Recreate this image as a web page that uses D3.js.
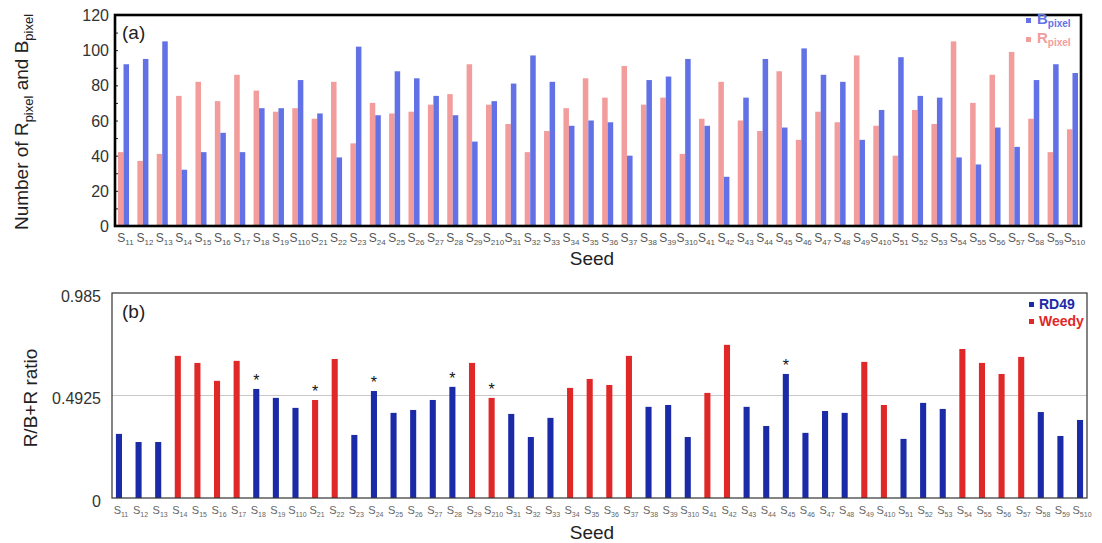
<!DOCTYPE html>
<html>
<head>
<meta charset="utf-8">
<script src="https://cdn.jsdelivr.net/npm/d3@7"></script>
<style>
  html, body { margin: 0; padding: 0; background: #fff; }
  svg { display: block; font-family: "Liberation Sans", Arial, sans-serif; }
</style>
</head>
<body>
<svg id="chart" width="1102" height="543"></svg>
<script>
// Seed identifiers (drawn as "S" + subscript)
const seeds = ["11","12","13","14","15","16","17","18","19","110",
               "21","22","23","24","25","26","27","28","29","210",
               "31","32","33","34","35","36","37","38","39","310",
               "41","42","43","44","45","46","47","48","49","410",
               "51","52","53","54","55","56","57","58","59","510"];

// Panel (a): pixel counts per seed
const rPixel = [42,37,41,74,82,71,86,77,65,67,
                61,82,47,70,64,65,69,75,92,69,
                58,42,54,67,84,73,91,69,73,41,
                61,82,60,54,88,49,65,59,97,57,
                40,66,58,105,70,86,99,61,42,55];
const bPixel = [92,95,105,32,42,53,42,67,67,83,
                64,39,102,63,88,84,74,63,48,71,
                81,97,82,57,60,59,40,83,85,95,
                57,28,73,95,56,101,86,82,49,66,
                96,74,73,39,35,56,45,83,92,87];

// Panel (b): R/(B+R) ratio per seed, with its group
const ratio = [0.308,0.269,0.269,0.683,0.649,0.563,0.659,0.524,0.481,0.433,
               0.471,0.668,0.303,0.514,0.409,0.423,0.471,0.534,0.649,0.481,
               0.404,0.293,0.385,0.529,0.572,0.543,0.683,0.438,0.447,0.293,
               0.505,0.736,0.438,0.346,0.596,0.313,0.418,0.409,0.654,0.447,
               0.284,0.457,0.428,0.716,0.649,0.596,0.678,0.413,0.298,0.375];
const group = ["RD49","RD49","RD49","Weedy","Weedy","Weedy","Weedy","RD49","RD49","RD49",
               "Weedy","Weedy","RD49","RD49","RD49","RD49","RD49","RD49","Weedy","Weedy",
               "RD49","RD49","RD49","Weedy","Weedy","Weedy","Weedy","RD49","RD49","RD49",
               "Weedy","Weedy","RD49","RD49","RD49","RD49","RD49","RD49","Weedy","Weedy",
               "RD49","RD49","RD49","Weedy","Weedy","Weedy","Weedy","RD49","RD49","RD49"];
// Seeds marked with an asterisk
const starred = ["18","21","24","28","210","45"];

const yTicksA = [0,20,40,60,80,100,120];
const yTicksB = [0,0.4925,0.985];

const svg = d3.select("#chart");
const COL_B = "#6272e6", COL_R = "#f29c9c";
const COL_RD = "#1b2aa6", COL_WD = "#e02828";

function seedLabel(sel, fs, sub) {
  sel.append("tspan").text("S").attr("font-size", fs);
  sel.append("tspan").text(d => d).attr("font-size", sub).attr("dy", 3);
}

// ---------- Panel (a) ----------
const A = {left: 115, right: 1081, top: 15, bottom: 226};
const xA = d3.scaleBand().domain(seeds).range([A.left, A.right]).paddingInner(0.43).paddingOuter(0.155);
const xSub = d3.scaleBand().domain(["R","B"]).range([0, xA.bandwidth()]);
const yA = d3.scaleLinear().domain([0,120]).range([A.bottom, A.top]);

const gA = svg.append("g");
const pairs = gA.selectAll("g.pair").data(seeds.map((s,i)=>({s, r:rPixel[i], b:bPixel[i]})))
  .join("g").attr("transform", d => `translate(${xA(d.s)},0)`);
pairs.append("rect").attr("x", xSub("R")).attr("width", xSub.bandwidth())
  .attr("y", d => yA(d.r)).attr("height", d => yA(0)-yA(d.r)).attr("fill", COL_R);
pairs.append("rect").attr("x", xSub("B")).attr("width", xSub.bandwidth())
  .attr("y", d => yA(d.b)).attr("height", d => yA(0)-yA(d.b)).attr("fill", COL_B);

// inward minor ticks
gA.append("g").attr("transform", `translate(${A.left},0)`)
  .call(d3.axisRight(yA).tickValues(d3.range(0,121,10)).tickSize(3).tickFormat(""))
  .call(g => g.select(".domain").remove())
  .call(g => g.selectAll("line").attr("stroke", "#222"));
// tick labels
gA.append("g").attr("transform", `translate(${A.left-6},0)`)
  .call(d3.axisLeft(yA).tickValues(yTicksA).tickSize(0).tickPadding(0))
  .call(g => g.select(".domain").remove())
  .call(g => g.selectAll("text").attr("font-size", 16).attr("fill", "#333")
      .attr("font-family", "Liberation Sans, Arial, sans-serif").attr("dy", "0.35em"));

gA.append("rect").attr("x", A.left).attr("y", A.top).attr("width", A.right-A.left)
  .attr("height", A.bottom-A.top).attr("fill", "none").attr("stroke", "#000").attr("stroke-width", 2.6);

gA.append("g").selectAll("text").data(seeds).join("text")
  .attr("x", d => xA(d) + xA.bandwidth()/2 + 2).attr("y", 242)
  .attr("text-anchor", "middle").attr("fill", "#555")
  .call(seedLabel, 12, 8);

gA.append("text").attr("x", 592).attr("y", 265).attr("text-anchor", "middle")
  .attr("font-size", 19).attr("fill", "#222").text("Seed");

gA.append("text").attr("x", 122).attr("y", 39).attr("font-size", 19).attr("fill", "#222").text("(a)");

const tA = gA.append("text").attr("transform", "translate(28,122) rotate(-90)")
  .attr("text-anchor", "middle").attr("font-size", 19).attr("fill", "#222");
tA.append("tspan").text("Number of R");
tA.append("tspan").text("pixel").attr("font-size", 13).attr("dy", 5);
tA.append("tspan").text(" and B").attr("dy", -5);
tA.append("tspan").text("pixel").attr("font-size", 13).attr("dy", 5);

// legend (a)
const legA = [{k:"B", c:COL_B, y:24}, {k:"R", c:COL_R, y:43}];
const lA = gA.append("g").selectAll("g").data(legA).join("g");
lA.append("rect").attr("x", 1026).attr("y", d => d.y-6).attr("width", 5).attr("height", 5).attr("fill", d => d.c);
const lAt = lA.append("text").attr("x", 1037).attr("y", d => d.y).attr("fill", d => d.c).attr("font-weight", "bold");
lAt.append("tspan").text(d => d.k).attr("font-size", 15);
lAt.append("tspan").text("pixel").attr("font-size", 10).attr("dy", 3);

// ---------- Panel (b) ----------
const B = {left: 112, right: 1087, top: 293, bottom: 498};
const xB = d3.scaleBand().domain(seeds).range([B.left, B.right]).paddingInner(0.69).paddingOuter(0.2);
const yB = d3.scaleLinear().domain([0,0.985]).range([B.bottom, B.top]);

const gB = svg.append("g");
gB.append("line").attr("x1", B.left).attr("x2", B.right).attr("y1", yB(0.4925)).attr("y2", yB(0.4925))
  .attr("stroke", "#c8c8c8").attr("stroke-width", 1);

const bars = seeds.map((s,i) => ({s, v: ratio[i], g: group[i]}));
gB.selectAll("rect.bar").data(bars).join("rect").attr("class", "bar")
  .attr("x", d => xB(d.s)).attr("width", xB.bandwidth())
  .attr("y", d => yB(d.v)).attr("height", d => yB(0)-yB(d.v))
  .attr("fill", d => d.g === "RD49" ? COL_RD : COL_WD);

gB.selectAll("text.star").data(bars.filter(d => starred.includes(d.s))).join("text")
  .attr("class", "star").attr("x", d => xB(d.s) + xB.bandwidth()/2).attr("y", d => yB(d.v) - 3)
  .attr("text-anchor", "middle").attr("font-size", 16).attr("fill", "#111").text("*");

gB.append("rect").attr("x", B.left).attr("y", B.top).attr("width", B.right-B.left)
  .attr("height", B.bottom-B.top).attr("fill", "none").attr("stroke", "#333").attr("stroke-width", 1.2);

gB.append("g").attr("transform", `translate(${B.left-11},0)`)
  .call(d3.axisLeft(yB).tickValues(yTicksB).tickSize(0).tickPadding(0).tickFormat(d => String(d)))
  .call(g => g.select(".domain").remove())
  .call(g => g.selectAll("text").attr("font-size", 16).attr("fill", "#333")
      .attr("font-family", "Liberation Sans, Arial, sans-serif").attr("dy", "0.5em"));

gB.append("g").selectAll("text").data(seeds).join("text")
  .attr("x", d => xB(d) + xB.bandwidth()/2 + 2).attr("y", 514)
  .attr("text-anchor", "middle").attr("fill", "#666")
  .call(seedLabel, 11, 7);

gB.append("text").attr("x", 592).attr("y", 539).attr("text-anchor", "middle")
  .attr("font-size", 19).attr("fill", "#222").text("Seed");

gB.append("text").attr("x", 122).attr("y", 318).attr("font-size", 19).attr("fill", "#222").text("(b)");

gB.append("text").attr("transform", "translate(37,398) rotate(-90)")
  .attr("text-anchor", "middle").attr("font-size", 19).attr("fill", "#222").text("R/B+R ratio");

const legB = [{k:"RD49", c:COL_RD, y:309}, {k:"Weedy", c:COL_WD, y:326}];
const lB = gB.append("g").selectAll("g").data(legB).join("g");
lB.append("rect").attr("x", 1029).attr("y", d => d.y-7).attr("width", 5).attr("height", 5).attr("fill", d => d.c);
lB.append("text").attr("x", 1039).attr("y", d => d.y).attr("fill", d => d.c)
  .attr("font-weight", "bold").attr("font-size", 14).text(d => d.k);
</script>
</body>
</html>
